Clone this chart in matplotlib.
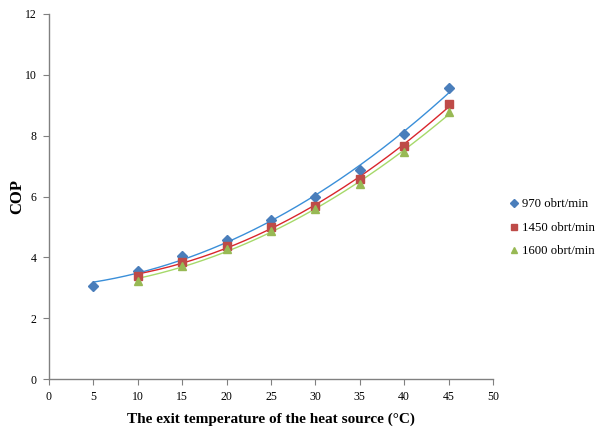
import numpy as np
import matplotlib
matplotlib.use("Agg")
import matplotlib.pyplot as plt

plt.rcParams['font.family'] = ['Liberation Serif', 'DejaVu Serif']

x_970 = [5, 10, 15, 20, 25, 30, 35, 40, 45]
cop_970 = [3.05, 3.55, 4.04, 4.57, 5.23, 5.97, 6.88, 8.05, 9.56]
x_1450 = [10, 15, 20, 25, 30, 35, 40, 45]
cop_1450 = [3.39, 3.84, 4.37, 5.01, 5.70, 6.57, 7.66, 9.03]
x_1600 = [10, 15, 20, 25, 30, 35, 40, 45]
cop_1600 = [3.23, 3.73, 4.27, 4.88, 5.58, 6.40, 7.45, 8.79]
labels = ['970 obrt/min', '1450 obrt/min', '1600 obrt/min']

fig = plt.figure(figsize=(5.98, 4.28), dpi=100)
ax = fig.add_axes([49/598, 1 - 379/428, 444/598, 365/428])

series = [
    (x_970, cop_970, 'D', '#4A7EBB', '#3A8FD9', 5),
    (x_1450, cop_1450, 's', '#BE4B48', '#D9262C', 5.5),
    (x_1600, cop_1600, '^', '#98B954', '#A6D96A', 6),
]
for (xs, ys, m, mc, lc, ms), lab in zip(series, labels):
    xs = np.array(xs); ys = np.array(ys)
    coef = np.polyfit(xs, ys, 2)
    xx = np.linspace(xs.min(), xs.max(), 200)
    ax.plot(xx, np.polyval(coef, xx), color=lc, lw=1.0, zorder=2)
    ax.plot(xs, ys, linestyle='none', marker=m, color=mc, markersize=ms,
            label=lab, zorder=3)

ax.set_xlim(0, 50)
ax.set_ylim(0, 12)
ax.set_xticks(range(0, 51, 5))
ax.set_yticks(range(0, 13, 2))
for s in ['top', 'right']:
    ax.spines[s].set_visible(False)
for s in ['left', 'bottom']:
    ax.spines[s].set_color('#808080')
    ax.spines[s].set_linewidth(1.0)
ax.tick_params(axis='both', labelsize=8.5, color='#808080', length=4, width=0.8)
ax.tick_params(axis='x', pad=5)
ax.tick_params(axis='y', pad=5)
ax.set_xlabel('The exit temperature of the heat source (\u00b0C)', fontsize=11,
              fontweight='bold')
ax.xaxis.set_label_coords(0.5, -(413 - 379) / 365)
ax.set_ylabel('COP', fontsize=12, fontweight='bold')
ax.yaxis.set_label_coords((25 - 49) / 444, 0.5)

fig.legend(loc='center left', bbox_to_anchor=(504/598, 1 - 228/428), frameon=False,
           fontsize=9.2, handlelength=0.6, handletextpad=0.3, labelspacing=0.9,
           borderpad=0, markerscale=0.75)

fig.savefig('out.png', dpi=100)
